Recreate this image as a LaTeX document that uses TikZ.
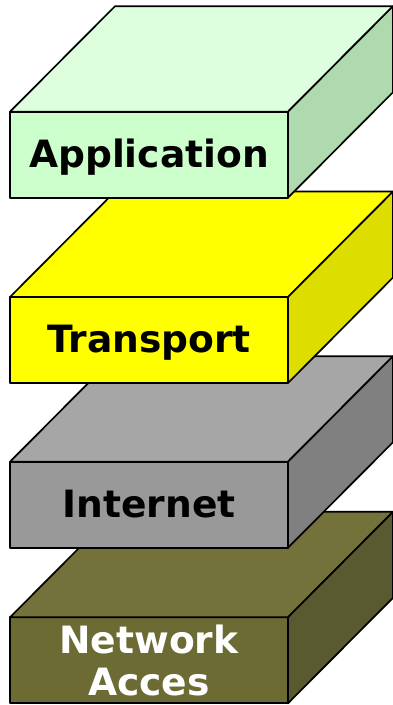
\documentclass[tikz,border=0pt]{standalone}
\usepackage{fontspec}
\setmainfont{DejaVu Sans}
\definecolor{apptop}{HTML}{DDFFDD}
\definecolor{appfront}{HTML}{CCFFCC}
\definecolor{appright}{HTML}{AFD9AF}
\definecolor{trtop}{HTML}{FFFF00}
\definecolor{trfront}{HTML}{FFFF00}
\definecolor{trright}{HTML}{DDDD00}
\definecolor{intop}{HTML}{A6A6A6}
\definecolor{infront}{HTML}{999999}
\definecolor{inright}{HTML}{808080}
\definecolor{nettop}{HTML}{72723A}
\definecolor{netfront}{HTML}{6B6B33}
\definecolor{netright}{HTML}{5A5A30}
\begin{document}
\begin{tikzpicture}[x=1pt,y=-1pt,line join=round,
  face/.style={draw=black,line width=1.7pt},
  layer/.style={face,rectangle,minimum width=278pt,minimum height=86pt,
    inner sep=0pt,outer sep=0pt,align=center,anchor=north west,
    font=\fontsize{37.6}{41.6}\selectfont\bfseries},
  single/.style={text height=35pt,text depth=10.2pt}]
\useasboundingbox (0,0) rectangle (393,705);
% Network Access (bottom)
\node[layer,fill=netfront,text=white] (net) at (10,617.3) {Network\\Acces};
\draw[face,fill=nettop] (net.north west) -- ++(105,-105.5) -- ++(278,0) -- (net.north east) -- cycle;
\draw[face,fill=netright] (net.north east) -- ++(105,-105.5) -- ++(0,86) -- (net.south east) -- cycle;
% Internet
\node[layer,single,fill=infront] (inet) at (10,461.7) {Internet};
\draw[face,fill=intop] (inet.north west) -- ++(105,-105.5) -- ++(278,0) -- (inet.north east) -- cycle;
\draw[face,fill=inright] (inet.north east) -- ++(105,-105.5) -- ++(0,86) -- (inet.south east) -- cycle;
% Transport
\node[layer,single,fill=trfront] (tr) at (10,297) {Transport};
\draw[face,fill=trtop] (tr.north west) -- ++(105,-105.5) -- ++(278,0) -- (tr.north east) -- cycle;
\draw[face,fill=trright] (tr.north east) -- ++(105,-105.5) -- ++(0,86) -- (tr.south east) -- cycle;
% Application (top)
\node[layer,single,fill=appfront] (app) at (10,111.7) {Application};
\draw[face,fill=apptop] (app.north west) -- ++(105,-105.5) -- ++(278,0) -- (app.north east) -- cycle;
\draw[face,fill=appright] (app.north east) -- ++(105,-105.5) -- ++(0,86) -- (app.south east) -- cycle;
\end{tikzpicture}
\end{document}
